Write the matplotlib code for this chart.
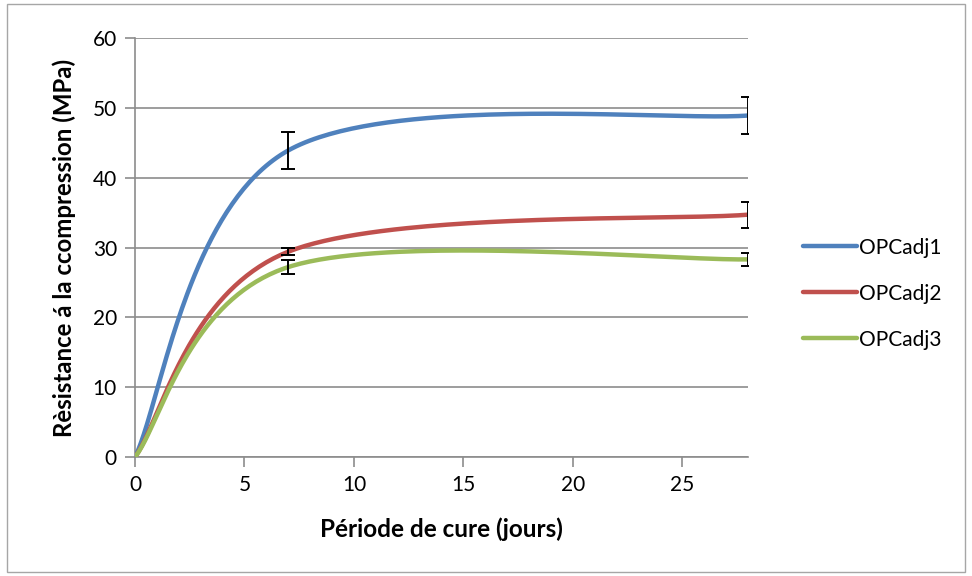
import matplotlib
matplotlib.use("Agg")
import matplotlib.pyplot as plt
import numpy as np
from matplotlib.patches import Rectangle

plt.rcParams["font.family"] = ["Lato", "DejaVu Sans"]

days = [0, 7, 28]
opc1 = [0.0, 43.9, 48.9]
opc2 = [0.0, 29.4, 34.7]
opc3 = [0.0, 27.2, 28.3]
err1 = [0.0, 2.65, 2.6]
err2 = [0.0, 0.5, 1.85]
err3 = [0.0, 0.95, 0.95]
labels = ["OPCadj1", "OPCadj2", "OPCadj3"]
colors = ["#4F81BD", "#C0504D", "#9BBB59"]


def excel_smooth(x, y, n=80):
    """Bezier smoothing like Excel's 'smoothed line' option."""
    pts = np.column_stack([x, y]).astype(float)
    ext = np.vstack([pts[0], pts, pts[-1]])
    t = np.linspace(0, 1, n)[:, None]
    out = []
    for i in range(len(pts) - 1):
        p0, p3 = ext[i + 1], ext[i + 2]
        p1 = p0 + (ext[i + 2] - ext[i]) / 6
        p2 = p3 - (ext[i + 3] - ext[i + 1]) / 6
        seg = ((1 - t) ** 3) * p0 + 3 * t * (1 - t) ** 2 * p1 + 3 * t ** 2 * (1 - t) * p2 + t ** 3 * p3
        out.append(seg if i == 0 else seg[1:])
    out = np.vstack(out)
    return out[:, 0], out[:, 1]


fig = plt.figure(figsize=(9.72, 5.76), dpi=100)
fig.patches.append(Rectangle((0.007, 0.007), 0.986, 0.986, transform=fig.transFigure,
                             fill=False, edgecolor="#A6A6A6", lw=1))
ax = fig.add_axes([0.1389, 0.2066, 0.6306, 0.7274])

grid_c = "#8C8C8C"
for ys, lab, c in zip([opc1, opc2, opc3], labels, colors):
    sx, sy = excel_smooth(days, ys)
    ax.plot(sx, sy, color=c, lw=3.2, label=lab, solid_capstyle="round", zorder=3)

for ys, es in zip([opc1, opc2, opc3], [err1, err2, err3]):
    mask = np.array(es) > 0
    ax.errorbar(np.array(days)[mask], np.array(ys)[mask], yerr=np.array(es)[mask],
                fmt="none", ecolor="black", elinewidth=1.4, capsize=5, capthick=1.4, zorder=4)

ax.set_xlim(0, 28)
ax.set_ylim(0, 60)
ax.set_xticks(range(0, 30, 5))
ax.set_yticks(range(0, 70, 10))
ax.yaxis.grid(True, color=grid_c, lw=1.2)
ax.set_axisbelow(True)
for s in ["top", "right"]:
    ax.spines[s].set_visible(False)
for s in ["left", "bottom"]:
    ax.spines[s].set_color(grid_c)
    ax.spines[s].set_linewidth(1.2)
ax.tick_params(axis="both", length=7, width=1.2, color=grid_c, labelsize=15, pad=6)

ax.set_xlabel("Période de cure (jours)", fontsize=17.5, fontweight="bold", labelpad=16)
ax.set_ylabel("Rèsistance á la ccompression (MPa)", fontsize=17.3, fontweight="bold", labelpad=12)

ax.legend(loc="center left", bbox_to_anchor=(1.09, 0.39), frameon=False, fontsize=15,
          handlelength=2.6, handletextpad=0.1, labelspacing=1.25,
          borderpad=0, borderaxespad=0)

fig.savefig("out.png", dpi=100)
